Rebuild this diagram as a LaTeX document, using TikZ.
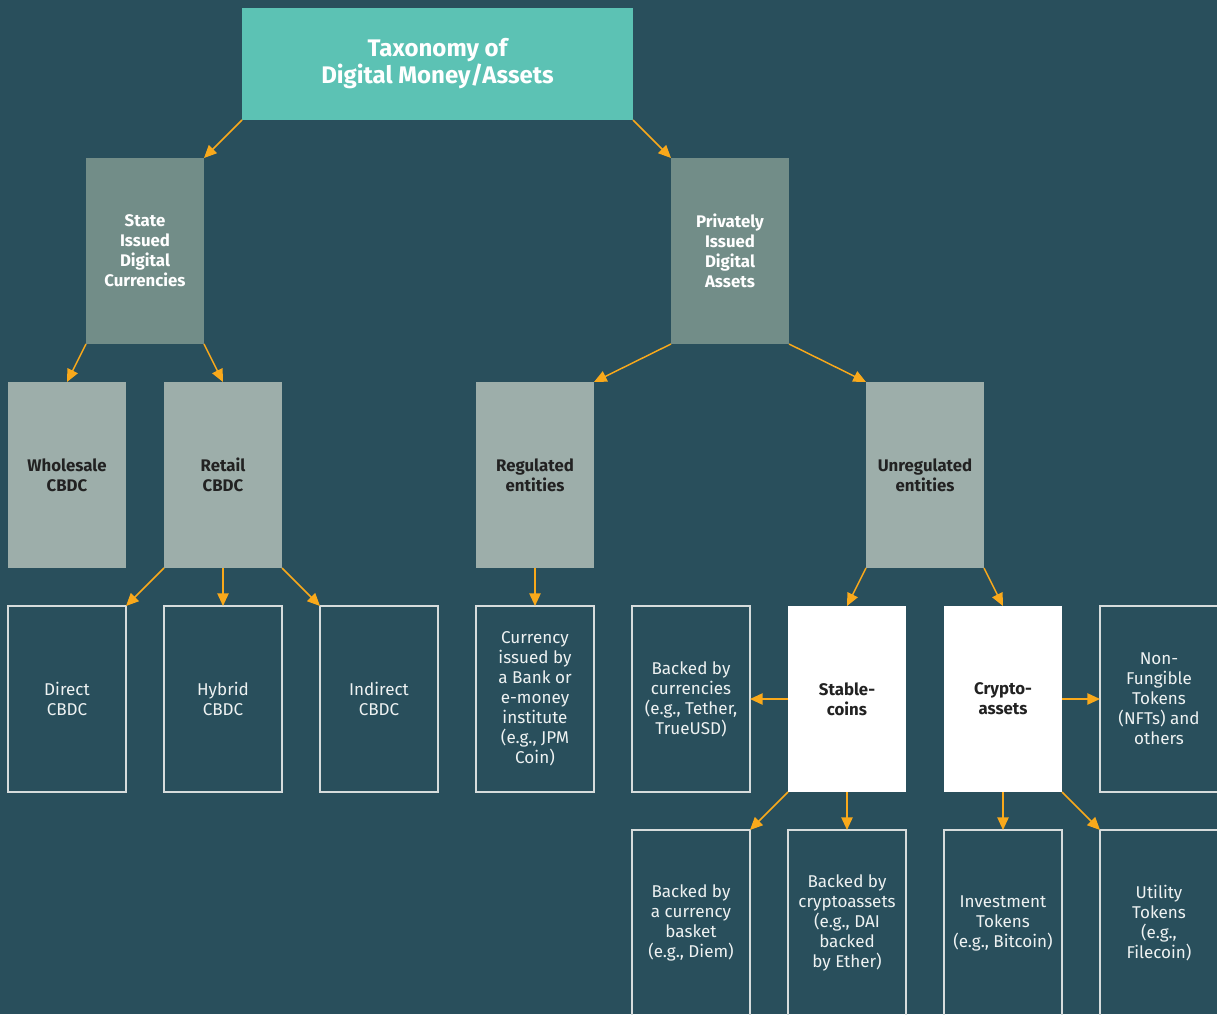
\documentclass[tikz,border=0pt]{standalone}
\usepackage{fontspec}
\setmainfont{Fira Sans}
\usetikzlibrary{positioning,calc,arrows.meta}

\definecolor{bgcol}{HTML}{294F5C}
\definecolor{topcol}{HTML}{5CC2B4}
\definecolor{midcol}{HTML}{728D88}
\definecolor{lowcol}{HTML}{9DAEAA}
\definecolor{arrcol}{HTML}{F9A91B}
\definecolor{inkcol}{HTML}{222222}
\definecolor{rimcol}{HTML}{D6DCDC}
\definecolor{paper}{HTML}{EEF2F2}

\tikzset{
  box/.style={minimum width=88.5pt, minimum height=139.5pt, inner sep=0pt, outer sep=0pt,
    align=center, font=\fontsize{12.8pt}{15pt}\selectfont},
  issuer/.style={box, fill=midcol, text=white, font=\fontsize{12.6pt}{15pt}\selectfont\bfseries},
  kind/.style={box, fill=lowcol, text=inkcol, font=\fontsize{12.6pt}{15pt}\selectfont\bfseries},
  token/.style={box, fill=white, text=inkcol, font=\fontsize{12.6pt}{15pt}\selectfont\bfseries},
  leaf/.style={box, draw=rimcol, line width=1.1pt, text=paper},
  arr/.style={draw=arrcol, line width=1.1pt, -{Triangle[length=9.5pt,width=8.5pt]}},
}

\begin{document}
\begin{tikzpicture}[node distance=28.5pt]
\path[use as bounding box, fill=bgcol] (-50.25pt,-236.25pt) rectangle (862.5pt,524.25pt);

% third row
\node[leaf] (direct) at (0,0) {Direct\\CBDC};
\node[leaf, right=of direct] (hybrid) {Hybrid\\CBDC};
\node[leaf, right=of hybrid] (indirect) {Indirect\\CBDC};
\node[leaf, right=of indirect] (bank) {Currency\\issued by\\a Bank or\\e-money\\institute\\(e.g., JPM\\Coin)};
\node[leaf, right=of bank] (bycur) {Backed by\\currencies\\(e.g., Tether,\\TrueUSD)};
\node[token, right=of bycur] (stable) {Stable-\\coins};
\node[token, right=of stable] (crypto) {Crypto-\\assets};
\node[leaf, right=of crypto] (nft) {Non-\\Fungible\\Tokens\\(NFTs) and\\others};

% fourth row
\node[leaf, below=of bycur] (basket) {Backed by\\a currency\\basket\\(e.g., Diem)};
\node[leaf, below=of stable] (bycrypto) {Backed by\\cryptoassets\\(e.g., DAI\\backed\\by Ether)};
\node[leaf, below=of crypto] (invest) {Investment\\Tokens\\(e.g., Bitcoin)};
\node[leaf, below=of nft] (utility) {Utility\\Tokens\\(e.g.,\\Filecoin)};

% second row
\node[kind, above=of direct] (whole) {Wholesale\\CBDC};
\node[kind, above=of hybrid] (retail) {Retail\\CBDC};
\node[kind, above=of bank] (reg) {Regulated\\entities};
\coordinate (mu) at ($(stable.north)!.5!(crypto.north)$);
\node[kind, above=of mu] (unreg) {Unregulated\\entities};

% first row
\coordinate (ms) at ($(whole.north)!.5!(retail.north)$);
\node[issuer, above=of ms] (state) {State\\Issued\\Digital\\Currencies};
\coordinate (mp) at ($(reg.north)!.5!(unreg.north)$);
\node[issuer, above=of mp] (priv) {Privately\\Issued\\Digital\\Assets};

% top
\coordinate (mt) at ($(state.north)!.5!(priv.north)$);
\node[above=of mt, fill=topcol, text=white, minimum width=293.25pt, minimum height=84pt,
  inner sep=0pt, outer sep=0pt, align=center,
  font=\fontsize{18pt}{20.25pt}\selectfont\bfseries] (title)
  {Taxonomy of\\Digital Money/Assets};

\foreach \a/\b in {title.south west/state.north east, title.south east/priv.north west,
    state.south west/whole.north, state.south east/retail.north,
    retail.south west/direct.north east, retail.south/hybrid.north,
    retail.south east/indirect.north west,
    priv.south west/reg.north east, priv.south east/unreg.north west,
    reg.south/bank.north,
    unreg.south west/stable.north, unreg.south east/crypto.north,
    stable.west/bycur.east, crypto.east/nft.west,
    stable.south west/basket.north east, stable.south/bycrypto.north,
    crypto.south/invest.north, crypto.south east/utility.north west}
  \draw[arr] (\a) -- (\b);
\end{tikzpicture}
\end{document}
